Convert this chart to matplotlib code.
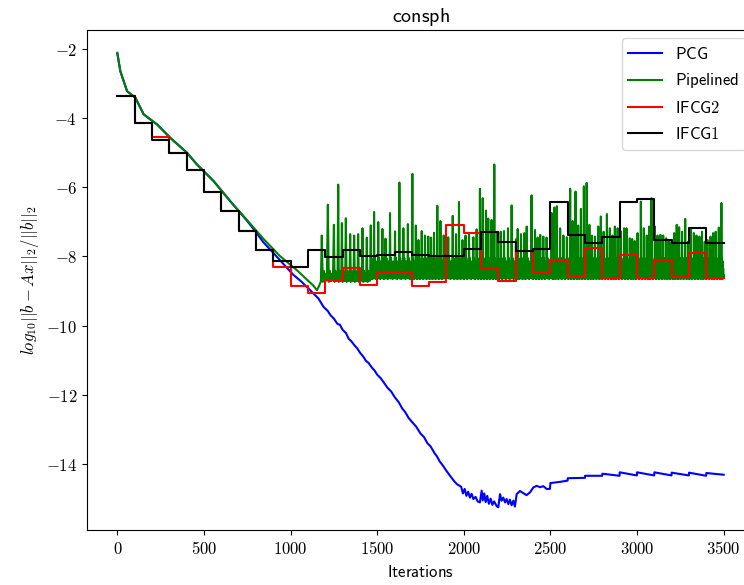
import numpy as np
import matplotlib
matplotlib.use("Agg")
import matplotlib.pyplot as plt
from matplotlib.ticker import FuncFormatter

plt.rcParams['font.size'] = 12
plt.rcParams['mathtext.fontset'] = 'cm'

# PCG residual
pcg_it = [0, 17, 56, 104, 152, 229, 306, 402, 460, 556, 652, 748, 800, 844, 900,
          940, 1017, 1060, 1103, 1161, 1190, 1215, 1230, 1250, 1270, 1285, 1300,
          1320, 1335, 1350, 1370, 1385, 1400, 1420, 1435, 1450, 1470, 1485, 1500,
          1520, 1536, 1560, 1580, 1600, 1625, 1645, 1663, 1680, 1700, 1725, 1750,
          1770, 1790, 1808, 1830, 1845, 1860, 1880, 1900, 1925, 1945, 1960, 1985,
          1995, 2005, 2015, 2025, 2035, 2045, 2055, 2068, 2080, 2093, 2103, 2110,
          2118, 2126, 2135, 2145, 2155, 2165, 2175, 2190, 2199, 2209, 2218, 2228,
          2238, 2247, 2257, 2266, 2276, 2286, 2295, 2305, 2324, 2343, 2362, 2382,
          2401, 2420, 2440, 2459, 2478, 2497, 2500, 2550, 2599, 2600, 2699, 2700,
          2799, 2800, 2899, 2900, 2999, 3000, 3099, 3100, 3199, 3200, 3299, 3300,
          3399, 3400, 3500]
pcg_res = [-2.15, -2.65, -3.23, -3.42, -3.90, -4.19, -4.58, -5.01, -5.35, -5.83,
           -6.41, -6.97, -7.30, -7.60, -7.90, -8.12, -8.54, -8.72, -8.93, -9.22,
           -9.46, -9.58, -9.70, -9.80, -9.95, -9.98, -10.12, -10.22, -10.38, -10.45,
           -10.58, -10.66, -10.78, -10.90, -11.02, -11.08, -11.22, -11.30, -11.42,
           -11.52, -11.63, -11.80, -11.90, -12.06, -12.22, -12.40, -12.51, -12.66,
           -12.78, -12.92, -13.12, -13.22, -13.40, -13.49, -13.68, -13.78, -13.92,
           -14.05, -14.20, -14.37, -14.50, -14.58, -14.66, -14.85, -14.72, -14.92,
           -14.80, -14.97, -14.86, -15.01, -14.95, -15.08, -15.11, -14.77, -15.05,
           -14.85, -15.10, -14.92, -15.15, -15.00, -15.18, -15.08, -15.22, -15.25,
           -14.87, -15.06, -14.97, -15.11, -15.01, -15.16, -15.03, -15.19, -15.06,
           -15.23, -14.87, -14.78, -14.84, -14.90, -14.82, -14.68, -14.63, -14.67,
           -14.64, -14.72, -14.72, -14.55, -14.52, -14.48, -14.41, -14.40, -14.34,
           -14.34, -14.28, -14.34, -14.24, -14.33, -14.24, -14.33, -14.24, -14.33,
           -14.25, -14.33, -14.25, -14.34, -14.26, -14.31]

# Pipelined: smooth start, then restart spikes on top of a noisy band
pipe_start_it = [0, 17, 56, 104, 152, 229, 306, 402, 460, 556, 652, 748, 844,
                 940, 1036, 1132, 1152, 1165, 1175]
pipe_start_res = [-2.12, -2.65, -3.23, -3.42, -3.90, -4.19, -4.58, -5.01, -5.35,
                  -5.83, -6.41, -6.95, -7.50, -8.00, -8.40, -8.85, -8.98, -8.85,
                  -8.72]
pipe_spike_it = [1180, 1215, 1250, 1275, 1296, 1319, 1344, 1367, 1390, 1415, 1440,
                 1463, 1482, 1506, 1530, 1548, 1574, 1603, 1628, 1651, 1677, 1703,
                 1723, 1738, 1757, 1776, 1795, 1811, 1828, 1847, 1865, 1884, 1910,
                 1936, 1955, 1972, 1992, 2010, 2030, 2055, 2074, 2093, 2109, 2128,
                 2141, 2160, 2176, 2195, 2213, 2232, 2255, 2276, 2301, 2311, 2330,
                 2349, 2363, 2391, 2411, 2426, 2441, 2459, 2478, 2507, 2522, 2537,
                 2556, 2575, 2595, 2614, 2628, 2645, 2660, 2676, 2693, 2709, 2725,
                 2740, 2757, 2776, 2791, 2807, 2826, 2843, 2858, 2872, 2888, 2905,
                 2925, 2939, 2958, 2972, 2987, 3003, 3022, 3039, 3056, 3070, 3083,
                 3103, 3118, 3135, 3151, 3168, 3183, 3199, 3214, 3229, 3243, 3260,
                 3278, 3295, 3310, 3328, 3343, 3360, 3375, 3391, 3406, 3424, 3439,
                 3454, 3472, 3487]
pipe_spike_res = [-7.40, -6.51, -7.09, -5.93, -7.04, -6.90, -7.36, -7.40, -7.36,
                  -7.19, -7.46, -7.11, -6.72, -7.01, -7.21, -7.49, -6.75, -7.28,
                  -5.87, -7.19, -7.07, -5.62, -7.11, -7.53, -7.27, -7.40, -7.43,
                  -7.46, -7.32, -6.54, -6.98, -7.40, -7.45, -6.83, -7.36, -6.43,
                  -7.53, -7.40, -7.35, -7.45, -7.22, -6.05, -6.32, -6.68, -6.91,
                  -6.95, -5.35, -7.29, -7.29, -7.27, -7.19, -6.53, -7.51, -7.21,
                  -7.36, -7.33, -7.14, -6.24, -7.24, -7.46, -7.38, -7.43, -7.46,
                  -6.75, -6.59, -6.55, -7.19, -7.40, -7.45, -6.05, -6.98, -6.13,
                  -7.11, -6.63, -5.98, -5.88, -7.09, -7.40, -7.43, -7.14, -6.85,
                  -7.29, -6.78, -7.19, -7.40, -7.14, -7.19, -7.27, -7.19, -7.19,
                  -7.48, -7.50, -7.56, -7.33, -6.42, -7.19, -7.40, -7.14, -6.32,
                  -7.14, -7.40, -7.38, -7.40, -7.48, -7.56, -7.58, -7.33, -7.09,
                  -7.16, -7.29, -6.92, -7.58, -7.19, -7.33, -7.40, -7.43, -7.29,
                  -7.58, -7.53, -7.43, -7.33, -7.29, -7.17, -6.46]
pipe_cycle_early = [-8.74, -8.42, -8.72, -8.50, -8.70]
pipe_cycle = [-8.64, -8.05, -8.62, -8.25, -8.66, -8.15, -8.60, -8.35, -8.63]
pipe_end = (3500, -8.55)

# IFCG step values, one per 100 iterations
ifcg_it = list(range(0, 3500, 100))
ifcg2_res = [-3.37, -4.16, -4.55, -5.01, -5.52, -6.14, -6.68, -7.26, -7.83, -8.31,
             -8.86, -9.07, -8.69, -8.33, -8.83, -8.46, -8.46, -8.86, -8.75, -7.09,
             -7.32, -8.35, -8.71, -7.86, -8.49, -8.12, -8.57, -7.77, -8.62, -7.96,
             -8.64, -8.12, -8.59, -7.90, -8.64]
ifcg1_res = [-3.37, -4.16, -4.65, -5.01, -5.52, -6.14, -6.68, -7.26, -7.83, -8.14,
             -8.32, -7.82, -8.03, -7.82, -8.00, -7.96, -7.89, -7.96, -7.99, -7.98,
             -7.79, -7.30, -7.59, -7.84, -7.80, -6.43, -7.38, -7.62, -7.44, -6.42,
             -6.34, -7.53, -7.63, -7.17, -7.62]

# build the pipelined series
pipe_x = list(pipe_start_it)
pipe_y = list(pipe_start_res)
for i, (sx, sv) in enumerate(zip(pipe_spike_it, pipe_spike_res)):
    nx = pipe_spike_it[i + 1] if i + 1 < len(pipe_spike_it) else pipe_end[0]
    cyc = pipe_cycle_early if sx < 1450 else pipe_cycle
    pipe_x.append(sx)
    pipe_y.append(sv)
    for j, v in enumerate(cyc):
        pipe_x.append(sx + (j + 1) * (nx - sx) / (len(cyc) + 1))
        pipe_y.append(v)
pipe_x.append(pipe_end[0])
pipe_y.append(pipe_end[1])

fig = plt.figure(figsize=(7.44, 5.85), dpi=100)
ax = fig.add_axes([0.117, 0.094, 0.8964, 0.8547])

ax.plot(pcg_it, pcg_res, color='blue', label=r'$\mathsf{PCG}$')
ax.plot(pipe_x, pipe_y, color='green', label=r'$\mathsf{Pipelined}$')
ax.step(ifcg_it + [3500], ifcg2_res + [ifcg2_res[-1]], where='post', color='red',
        label=r'$\mathsf{IFCG2}$')
ax.step(ifcg_it + [3500], ifcg1_res + [ifcg1_res[-1]], where='post', color='black',
        label=r'$\mathsf{IFCG1}$')

ax.set_xticks(range(0, 3501, 500))
ax.set_yticks(range(-14, -1, 2))
ax.xaxis.set_major_formatter(FuncFormatter(lambda v, p: r'$%d$' % v))
ax.yaxis.set_major_formatter(FuncFormatter(lambda v, p: r'$%d$' % v))

ax.set_title(r'$\mathsf{consph}$')
ax.set_xlabel(r'$\mathsf{Iterations}$')
ax.set_ylabel(r'$log_{10}||b-Ax||_2/||b||_2$')
ax.legend(loc='upper right')

fig.savefig('out.png', dpi=100)
